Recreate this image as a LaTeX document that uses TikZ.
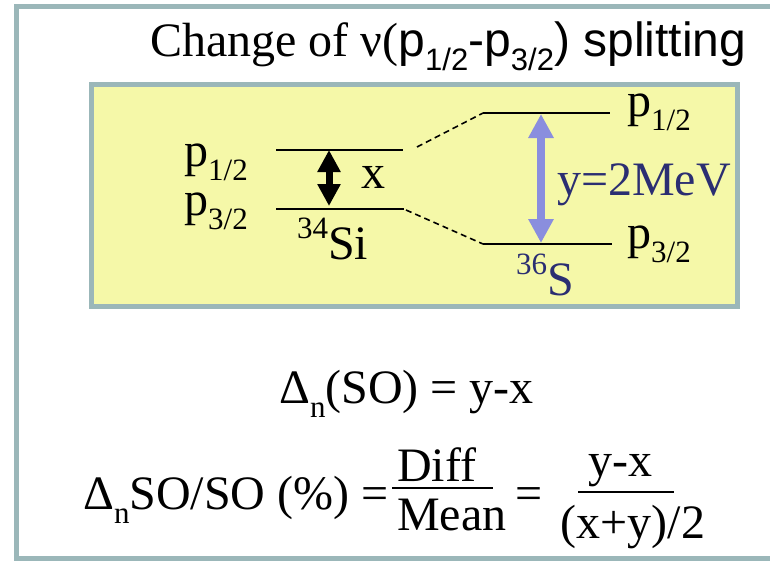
\documentclass[tikz,border=0pt]{standalone}
\usepackage{fontspec}
\setmainfont{Liberation Serif}
\newfontfamily\arialsf{Liberation Sans}
\usetikzlibrary{arrows.meta,positioning}
\definecolor{framegray}{HTML}{9BB7B9}
\definecolor{boxyellow}{HTML}{F5F8A8}
\definecolor{arrowblue}{HTML}{8A8EDE}
\definecolor{labelnavy}{HTML}{2B2E72}
\newcommand{\lowsub}[1]{\raisebox{-0.3em}{\fontsize{31}{31}\selectfont #1}}
\newcommand{\highsup}[1]{\raisebox{0.42em}{\fontsize{31}{31}\selectfont #1}}

\begin{document}
\begin{tikzpicture}[x=1pt,y=-1pt,
  lbl/.style={inner sep=0pt, font=\fontsize{48}{56}\selectfont},
  level/.style={line width=1.8pt},
  link/.style={line width=1.6pt, dash pattern=on 6pt off 4pt},
  fracbar/.style={line width=1.8pt}]
  \useasboundingbox (0,0) rectangle (770,560);
  \clip (0,0) rectangle (770,560);
  \fill[white] (0,0) rectangle (770,560);
  % frames
  \draw[framegray, line width=5pt] (16.5,6.5) rectangle (790,558.5);
  \draw[framegray, line width=5pt, fill=boxyellow] (91.5,84.5) rectangle (737.5,306.5);
  \node[lbl, anchor=base west] (title) at (150,56)
    {Change of ν(\arialsf p\lowsub{1/2}-p\lowsub{3/2}) splitting};

  % levels of 34Si and 36S
  \coordinate (si12w) at (276,150);
  \coordinate (si12e) at (403,150);
  \coordinate (si32w) at (276,209);
  \coordinate (si32e) at (404,209);
  \coordinate (s12w) at (483,113);
  \coordinate (s12e) at (610,113);
  \coordinate (s32w) at (483,244);
  \coordinate (s32e) at (612,244);
  \draw[level] (si12w) -- (si12e);
  \draw[level] (si32w) -- (si32e);
  \draw[level] (s12w) -- (s12e);
  \draw[level] (s32w) -- (s32e);
  \draw[link] ([shift={(14,-3)}]si12e) -- (s12w);
  \draw[link] ([shift={(2,1)}]si32e) -- (s32w);

  % splittings
  \coordinate (xtop) at (329,150);
  \coordinate (xbot) at (329,206);
  \coordinate (ytop) at (541,114);
  \coordinate (ybot) at (541,243);
  \draw[line width=7pt, {Triangle[width=22pt,length=22pt]}-{Triangle[width=22pt,length=22pt]}] (xtop) -- (xbot);
  \draw[arrowblue, line width=8pt, {Triangle[width=24pt,length=24pt]}-{Triangle[width=24pt,length=24pt]}] (ytop) -- (ybot);

  \node[lbl, anchor=base west] (si12) at (184,166) {p\lowsub{1/2}};
  \node[lbl, anchor=base west] (si32) at (184,215) {p\lowsub{3/2}};
  \node[lbl, anchor=base] (xlab) at (373,188) {x};
  \node[lbl, anchor=base west] (sinuc) at (297,259) {\highsup{34}Si};
  \node[lbl, anchor=base west] (s12) at (627,116) {p\lowsub{1/2}};
  \node[lbl, anchor=base west] (s32) at (627,248) {p\lowsub{3/2}};
  \node[lbl, anchor=base west, labelnavy] (ylab) at (557,195) {y=2MeV};
  \node[lbl, anchor=base west, labelnavy] (snuc) at (516,295) {\highsup{36}S};

  % formulas
  \node[lbl, anchor=base west] (dso) at (279,403) {Δ\lowsub{n}(SO) = y-x};
  \node[lbl, anchor=base west] (ratio) at (83,509) {Δ\lowsub{n}SO/SO (\%) =};
  \node[lbl, anchor=base west] (diff) at (397,481) {Diff};
  \node[lbl, anchor=base west] (mean) at (397,530) {Mean};
  \node[lbl, anchor=base west] (eqtwo) at (515,509) {=};
  \node[lbl, anchor=base] (num) at (620,476) {y-x};
  \node[lbl, anchor=base] (den) at (633,538) {(x+y)/2};
  \draw[fracbar] (392,488) -- (493,488);
  \draw[fracbar] (578,492) -- (674,492);
\end{tikzpicture}
\end{document}
